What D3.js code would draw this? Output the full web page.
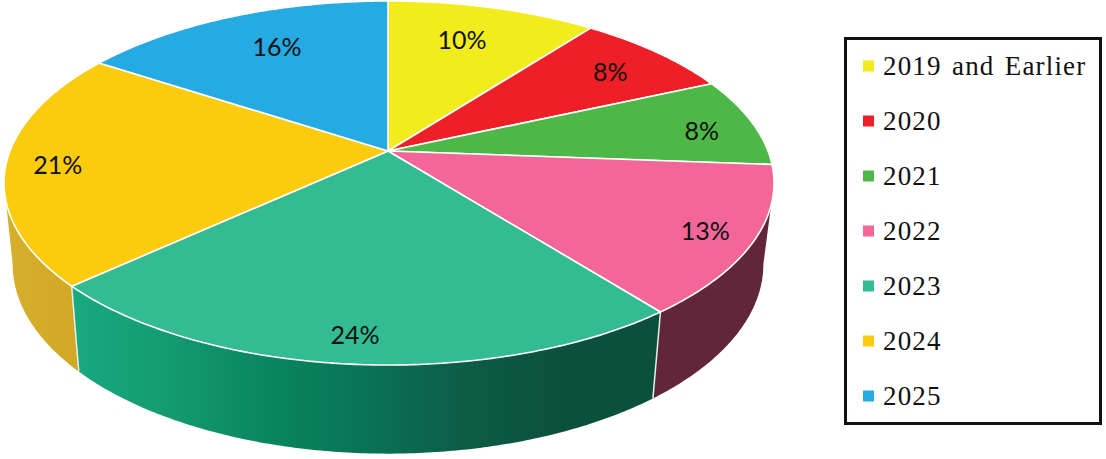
<!DOCTYPE html>
<html>
<head>
<meta charset="utf-8">
<script src="https://cdn.jsdelivr.net/npm/d3@7/dist/d3.min.js"></script>
<style>
  html, body { margin: 0; padding: 0; background: #fff; }
  svg { display: block; }
</style>
</head>
<body>
<svg id="chart"></svg>
<script>
const categories = ["2019 and Earlier", "2020", "2021", "2022", "2023", "2024", "2025"];
const shares = [10.4, 7.9, 7.9, 13.2, 23.8, 21.0, 15.8];
const topColors = ["#f2ec1c", "#ee1f27", "#4db848", "#f26698", "#33bb92", "#fbcb0e", "#25aae2"];
// side wall shades, left to right
const sideColors = [
  ["#b8b214"], ["#a8181d"], ["#357f32"],
  ["#62263a", "#62263a"],
  ["#18aa80", "#149a70", "#08865f", "#0a7356", "#0c5c46", "#0b503d", "#0b503d"],
  ["#d6b02c", "#d2a726"],
  ["#1a7aa0"]
];
// label placement inside each slice: radius fraction, degrees off the slice middle
const labelRadius = [0.74, 0.8, 0.85, 0.88, 0.885, 0.865, 0.735];
const labelNudge = [-1.5, 0.9, 2.1, 0.4, 0.1, -0.7, 2];

const width = 1106;
const height = 459;
const tilt = 0.1758; // perspective of the disc

const topX = d3.scaleLinear().domain([-1, 0, 1]).range([388 - 378, 388, 388 + 380]);
const topY = d3.scaleLinear().domain([-1, 1]).range([151 - 176.4, 151 + 176.4]);
const baseX = d3.scaleLinear().domain([-1, 1]).range([388 - 369.5, 388 + 369.5]);
const baseY = d3.scaleLinear().domain([-1, 1]).range([231 - 183.5, 231 + 183.5]);

// angle is clockwise from 12 o'clock, r is a fraction of the radius
function project(angle, r, sx, sy) {
  const u = r * Math.sin(angle);
  const v = -r * Math.cos(angle);
  const w = 1 - tilt * v;
  return [sx(u / w), sy(v / w)];
}

function arcPoints(a0, a1, sx, sy) {
  const n = Math.max(2, Math.ceil((a1 - a0) / 0.01));
  return d3.range(n + 1).map((i) => project(a0 + ((a1 - a0) * i) / n, 1, sx, sy));
}

const svg = d3.select("#chart").attr("width", width).attr("height", height);
const defs = svg.append("defs");
const line = d3.line();

const slices = d3.pie().sort(null).value((d) => d)(shares);

// part of the rim that faces the viewer
const frontStart = Math.acos(-tilt);
const frontEnd = 2 * Math.PI - frontStart;

const sides = svg.append("g");
slices.forEach((d, i) => {
  const a0 = Math.max(d.startAngle, frontStart);
  const a1 = Math.min(d.endAngle, frontEnd);
  if (a1 <= a0) return;
  const stops = sideColors[i];
  const grad = defs.append("linearGradient").attr("id", `side-${i}`);
  grad
    .selectAll("stop")
    .data(stops)
    .join("stop")
    .attr("offset", (c, k) => (stops.length > 1 ? k / (stops.length - 1) : 0))
    .attr("stop-color", (c) => c);
  const pts = arcPoints(a0, a1, topX, topY).concat(arcPoints(a0, a1, baseX, baseY).reverse());
  sides
    .append("path")
    .attr("d", line(pts) + "Z")
    .attr("fill", `url(#side-${i})`);
});

// white seams between wall segments
slices.slice(1).forEach((d) => {
  if (d.startAngle <= frontStart || d.startAngle >= frontEnd) return;
  sides
    .append("path")
    .attr("d", line([project(d.startAngle, 1, topX, topY), project(d.startAngle, 1, baseX, baseY)]))
    .attr("stroke", "#e8efec")
    .attr("stroke-width", 1.5)
    .attr("fill", "none");
});

svg
  .append("g")
  .selectAll("path")
  .data(slices)
  .join("path")
  .attr("d", (d) => line([project(0, 0, topX, topY), ...arcPoints(d.startAngle, d.endAngle, topX, topY)]) + "Z")
  .attr("fill", (d, i) => topColors[i])
  .attr("stroke", "#fff")
  .attr("stroke-width", 1.6)
  .attr("stroke-linejoin", "round");

svg
  .append("g")
  .selectAll("text")
  .data(slices)
  .join("text")
  .attr("transform", (d, i) => {
    const mid = (d.startAngle + d.endAngle) / 2 + (labelNudge[i] * Math.PI) / 180;
    const [x, y] = project(mid, labelRadius[i], topX, topY);
    return `translate(${x},${y})`;
  })
  .attr("text-anchor", "middle")
  .attr("dy", "0.35em")
  .attr("font-family", "Lato, 'Open Sans', sans-serif")
  .attr("font-size", 25)
  .attr("fill", "#111")
  .text((d) => `${Math.round(d.data)}%`);

// legend
const legendY = d3.scalePoint().domain(categories).range([66, 396]);
const legend = svg.append("g");

legend
  .append("rect")
  .attr("x", 845.5)
  .attr("y", 38.5)
  .attr("width", 255)
  .attr("height", 385)
  .attr("fill", "#fff")
  .attr("stroke", "#111")
  .attr("stroke-width", 3);

const rows = legend
  .selectAll("g")
  .data(categories)
  .join("g")
  .attr("transform", (d) => `translate(0,${legendY(d)})`);

rows
  .append("rect")
  .attr("x", 863)
  .attr("y", -5.5)
  .attr("width", 11)
  .attr("height", 11)
  .attr("fill", (d, i) => topColors[i]);

rows
  .append("text")
  .attr("x", 883)
  .attr("dy", "0.33em")
  .attr("font-family", "'Liberation Serif', serif")
  .attr("font-size", 27)
  .attr("letter-spacing", 1.15)
  .attr("word-spacing", 2.5)
  .attr("fill", "#111")
  .text((d) => d);
</script>
</body>
</html>
